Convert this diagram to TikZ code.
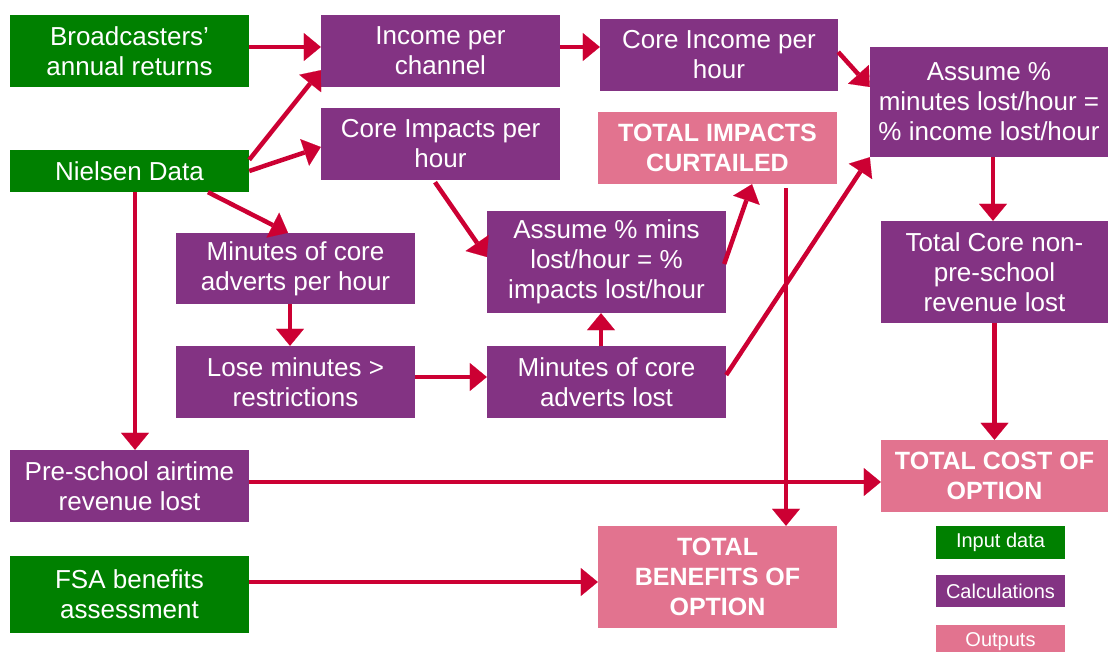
\documentclass[tikz,border=0pt]{standalone}
\usepackage{fontspec}
\setmainfont{Liberation Sans}
\usetikzlibrary{arrows.meta}
\definecolor{ingreen}{RGB}{0,128,0}
\definecolor{calcpurple}{RGB}{131,51,131}
\definecolor{outpink}{RGB}{226,115,143}
\definecolor{arrowred}{RGB}{204,0,51}

\begin{document}
\begin{tikzpicture}[x=1pt,y=-1pt,
    box/.style={text=white,align=center,inner sep=0pt,font=\fontsize{26}{30}\selectfont},
    inbox/.style={box,fill=ingreen},
    calcbox/.style={box,fill=calcpurple},
    outbox/.style={box,fill=outpink,font=\fontsize{25}{30}\selectfont\bfseries},
    legend/.style={font=\fontsize{20}{24}\selectfont,minimum width=129pt,minimum height=33pt},
    link/.style={draw=arrowred,line width=4.5pt,-{Triangle[length=17pt,width=28pt,line width=0.1pt]}}]
      \useasboundingbox (0,0) rectangle (1108,652);
      \path
        (129.5,51) node[inbox,minimum width=239pt,minimum height=72pt] (bcast){Broadcasters’\\annual returns}
        (440.5,51) node[calcbox,minimum width=239pt,minimum height=72pt] (incch){Income per\\channel}
        (129.5,171) node[inbox,minimum width=239pt,minimum height=42pt] (nielsen){Nielsen Data}
        (440.5,144) node[calcbox,minimum width=239pt,minimum height=72pt] (coreimp){Core Impacts per\\hour}
        (295.5,268.5) node[calcbox,minimum width=239pt,minimum height=71pt] (minhr){Minutes of core\\adverts per hour}
        (606.5,262) node[calcbox,minimum width=239pt,minimum height=102pt] (assmins){Assume \% mins\\lost/hour = \%\\impacts lost/hour}
        (719,55) node[calcbox,minimum width=238pt,minimum height=72pt] (coreinc){Core Income per\\hour}
        (717.5,148) node[outbox,minimum width=239pt,minimum height=72pt] (impacts){TOTAL IMPACTS\\CURTAILED}
        (989,102) node[calcbox,minimum width=238pt,minimum height=110pt] (assinc){Assume \%\\minutes lost/hour =\\\% income lost/hour}
        (994.5,272) node[calcbox,minimum width=227pt,minimum height=102pt] (totcore){Total Core non-\\pre-school\\revenue lost}
        (295.5,382) node[calcbox,minimum width=239pt,minimum height=72pt] (lose){Lose minutes >\\restrictions}
        (606.5,382) node[calcbox,minimum width=239pt,minimum height=72pt] (minlost){Minutes of core\\adverts lost}
        (129.5,486) node[calcbox,minimum width=239pt,minimum height=72pt] (preschool){Pre-school airtime\\revenue lost}
        (129.5,594.5) node[inbox,minimum width=239pt,minimum height=77pt] (fsa){FSA benefits\\assessment}
        (994.5,476) node[outbox,minimum width=227pt,minimum height=72pt] (totcost){TOTAL COST OF\\OPTION}
        (717.5,577) node[outbox,minimum width=239pt,minimum height=102pt] (totben){TOTAL\\BENEFITS OF\\OPTION}
        (1000.5,542.5) node[inbox,legend] (legin){Input data}
        (1000.5,591) node[calcbox,legend,minimum height=32pt] (legcalc){Calculations}
        (1000.5,641.5) node[outbox,legend] (legout){Outputs};
      \begin{scope}[link]
        \draw ([yshift=4pt]bcast.east) to ([yshift=4pt]incch.west);
        \draw ([yshift=-10pt]nielsen.north east) to ([yshift=17pt]incch.south west);
        \draw (nielsen.east) to ([yshift=-3pt]coreimp.west);
        \draw ([xshift=78.5pt]nielsen.south) to ([xshift=-7.5pt]minhr.north);
        \draw ([xshift=5.5pt]nielsen.south) to ([xshift=5.5pt]preschool.north);
        \draw ([xshift=-5.5pt]minhr.south) to ([xshift=-5.5pt]lose.north);
        \draw ([yshift=5pt]lose.east) to ([yshift=5pt]minlost.west);
        \draw ([xshift=-5.5pt]minlost.north) to ([xshift=-5.5pt]assmins.south);
        \draw ([xshift=-5.5pt,yshift=-2pt]coreimp.south) to ([yshift=5pt]assmins.west);
        \draw ([xshift=-2pt,yshift=-2pt]assmins.east) to ([xshift=34.5pt]impacts.south);
        \draw ([yshift=7pt]minlost.east) to (assinc.south west);
        \draw ([yshift=4pt]incch.east) to ([yshift=8pt]coreinc.west);
        \draw ([yshift=3pt]coreinc.east) to ([yshift=15pt]assinc.west);
        \draw ([xshift=4pt]assinc.south) to ([xshift=-1.5pt]totcore.north);
        \draw (totcore.south) to (totcost.north);
        \draw ([xshift=68.5pt,yshift=-4pt]impacts.south) to ([xshift=68.5pt]totben.north);
        \draw ([yshift=4pt]preschool.east) to ([yshift=-6pt]totcost.west);
        \draw ([yshift=12.5pt]fsa.east) to ([yshift=-5pt]totben.west);
      \end{scope}
    \end{tikzpicture}
\end{document}
